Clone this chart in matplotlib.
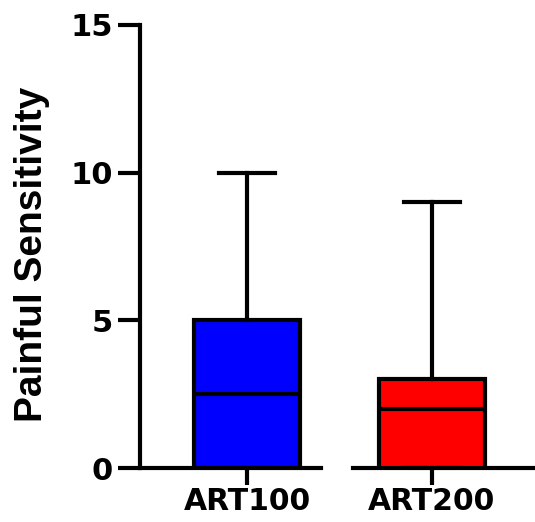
import matplotlib
matplotlib.use("Agg")
import matplotlib.pyplot as plt

groups = ["ART100", "ART200"]
medians = [2.5, 2.0]
q1s = [0.0, 0.0]
q3s = [5.0, 3.0]
mins = [0.0, 0.0]
maxs = [10.0, 9.0]
colors = ["#0000FF", "#FF0000"]
yticks = [0, 5, 10, 15]

W, H = 535, 522
fig = plt.figure(figsize=(W / 100, H / 100), dpi=100)
ax = fig.add_axes([140 / W, 1 - 468 / H, 1 - 140 / W, (468 - 25) / H])

stats = [dict(label=g, med=m, q1=a, q3=b, whislo=lo, whishi=hi, fliers=[])
         for g, m, a, b, lo, hi in zip(groups, medians, q1s, q3s, mins, maxs)]
positions = [1, 2]
lw = 3
bp = ax.bxp(stats, positions=positions, widths=0.57, capwidths=0.30,
            patch_artist=True, showfliers=False,
            boxprops=dict(linewidth=lw, edgecolor="black"),
            medianprops=dict(linewidth=lw, color="black"),
            whiskerprops=dict(linewidth=lw, color="black"),
            capprops=dict(linewidth=lw, color="black"))
for patch, c in zip(bp["boxes"], colors):
    patch.set_facecolor(c)

xl, xr = 0.4216, 2.557
ax.set_xlim(xl, xr)
ax.set_ylim(0, 15)

for s in ["top", "right", "bottom"]:
    ax.spines[s].set_visible(False)
ax.spines["left"].set_linewidth(lw)
ax.spines["left"].set_capstyle("projecting")

# segmented x axis (Prism style)
for a, b in [(xl, 1.40), (1.573, xr)]:
    ax.plot([a, b], [0, 0], color="black", linewidth=lw, clip_on=False,
            solid_capstyle="projecting", zorder=1)

ax.set_yticks(yticks)
ax.set_yticklabels([str(t) for t in yticks])
ax.set_xticks(positions)
ax.set_xticklabels(groups)

ax.tick_params(axis="y", length=16, width=lw, pad=3.5, labelsize=22)
ax.tick_params(axis="x", length=12.5, width=lw, pad=1, labelsize=21.5)
for lab in ax.get_yticklabels() + ax.get_xticklabels():
    lab.set_fontfamily("DejaVu Sans")
    lab.set_fontweight("bold")

ax.set_ylabel("Painful Sensitivity", fontsize=28, fontweight="bold",
              family="Liberation Sans")
ax.yaxis.set_label_coords(-0.228, 0.483)

fig.savefig("out.png", dpi=100)
